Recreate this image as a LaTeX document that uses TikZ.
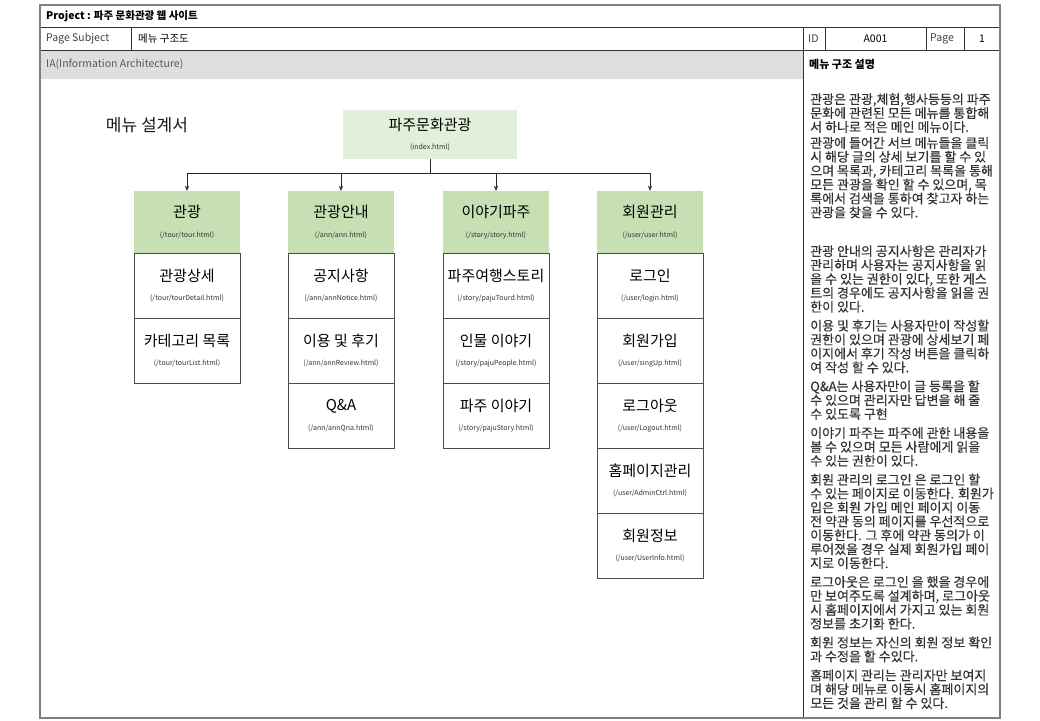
\documentclass[tikz,border=0pt]{standalone}
\usepackage{fontspec}
\usetikzlibrary{arrows.meta,positioning}
\newfontfamily\kr{Noto Sans CJK KR}
\newfontfamily\krdesc[FakeBold=0.4]{Noto Sans CJK KR}
\definecolor{rootgreen}{HTML}{E2EFDA}
\definecolor{menugreen}{HTML}{C6E0B4}
\definecolor{headgray}{HTML}{DEDEDE}
\definecolor{framegray}{HTML}{808080}
\tikzset{
  rootbox/.style={fill=rootgreen,minimum width=174pt,minimum height=49pt,align=center,inner sep=0pt,font=\kr\fontsize{15}{19.5}\selectfont},
  menubox/.style={fill=menugreen,minimum width=106pt,minimum height=62pt,align=center,inner sep=0pt,font=\kr\fontsize{15}{20}\selectfont},
  subbox/.style={draw=black!70,fill=white,minimum width=106pt,minimum height=65pt,align=center,inner sep=0pt,font=\kr\fontsize{15}{19.5}\selectfont},
  cell/.style={font=\kr\fontsize{10.5}{12}\selectfont,anchor=west,inner sep=0pt},
  desc/.style={font=\krdesc\fontsize{13}{13.9}\selectfont,align=left,anchor=north west,inner sep=0pt,text=black!80},
  link/.style={-{Stealth[length=5pt,width=4pt]},black!85}
}
\newcommand{\boxtext}[2]{#1\\{\fontsize{7}{8}\selectfont\color{black!80}#2}}

\begin{document}
\begin{tikzpicture}[x=1pt,y=-1pt]
	\useasboundingbox (0,0) rectangle (1040,720);
	% form frame
	\fill[headgray] (40,50) rectangle (803,79);
	\draw[black!80] (40,27)--(1000,27) (40,50)--(1000,50);
	\foreach \x in {131,803,825,926,964}
		\draw[black!80] (\x,27)--(\x,50);
	\draw[black!80] (803,50)--(803,718);
	\draw[framegray,line width=1.5pt] (40,5) rectangle (1000,718);
	\node[cell,font=\kr\bfseries\fontsize{10.5}{12}\selectfont] (project) at (46,16) {Project : 파주 문화관광 웹 사이트};
	\node[cell,text=black!75] (subjlabel) at (46,38.5) {Page Subject};
	\node[cell] (subject) at (138,38.5) {메뉴 구조도};
	\node[cell,text=black!75] (idlabel) at (808,38.5) {ID};
	\node[cell,anchor=center] (idval) at (875.5,38.5) {A001};
	\node[cell,text=black!75] (pagelabel) at (930,38.5) {Page};
	\node[cell,anchor=center] (pageval) at (982,38.5) {1};
	\node[cell,text=black!65] (ia) at (46,64) {IA(Information Architecture)};
	\node[cell,font=\kr\bfseries\fontsize{11}{12}\selectfont] (desctitle) at (809,64) {메뉴 구조 설명};
	% menu tree
	\node[font=\kr\fontsize{17}{18}\selectfont,text=black!90] (doctitle) at (147,125) {메뉴 설계서};
	\node[rootbox] (root) at (430,134.5) {\boxtext{파주문화관광}{(index.html)}};
	\coordinate (bus) at (430,173);
	\foreach \m/\x/\title/\url in {tour/187/관광/{(/tour/tour.html)},ann/341/관광안내/{(/ann/ann.html)},story/496/이야기파주/{(/story/story.html)},user/650/회원관리/{(/user/user.html)}}{
		\node[menubox] (\m) at (\x,222) {\boxtext{\title}{\url}};
		\draw[link] (root.south)--(bus)-|(\m.north);
	}
	\foreach[count=\i] \title/\url in {관광상세/{(/tour/tourDetail.html)},카테고리 목록/{(/tour/tourList.html)}}
		\node[subbox] (tour\i) at (187,{285.5+65*(\i-1)}) {\boxtext{\title}{\url}};
	\foreach[count=\i] \title/\url in {공지사항/{(/ann/annNotice.html)},이용 및 후기/{(/ann/annReview.html)},Q\&A/{(/ann/annQna.html)}}
		\node[subbox] (ann\i) at (341,{285.5+65*(\i-1)}) {\boxtext{\title}{\url}};
	\foreach[count=\i] \title/\url in {파주여행스토리/{(/story/pajuTourd.html)},인물 이야기/{(/story/pajuPeople.html)},파주 이야기/{(/story/pajuStory.html)}}
		\node[subbox] (story\i) at (496,{285.5+65*(\i-1)}) {\boxtext{\title}{\url}};
	\foreach[count=\i] \title/\url in {로그인/{(/user/login.html)},회원가입/{(/user/singUp.html)},로그아웃/{(/user/Logout.html)},홈페이지관리/{(/user/AdminCtrl.html)},회원정보/{(/user/UserInfo.html)}}
		\node[subbox] (user\i) at (650,{285.5+65*(\i-1)}) {\boxtext{\title}{\url}};
	% description
	\node[desc] (para1) at (810,93) {관광은 관광,체험,행사등등의 파주\\
		문화에 관련된 모든 메뉴를 통합해\\
		서 하나로 적은 메인 메뉴이다.\\[2pt]
		관광에 들어간 서브 메뉴들을 클릭\\
		시 해당 글의 상세 보기를 할 수 있\\
		으며 목록과, 카테고리 목록을 통해\\
		모든 관광을 확인 할 수 있으며, 목\\
		록에서 검색을 통하여 찾고자 하는\\
		관광을 찾을 수 있다.};
	\node[desc] (para2) at (810,245) {관광 안내의 공지사항은 관리자가\\
		관리하며 사용자는 공지사항을 읽\\
		을 수 있는 권한이 있다, 또한 게스\\
		트의 경우에도 공지사항을 읽을 권\\
		한이 있다.\\[5pt]
		이용 및 후기는 사용자만이 작성할\\
		권한이 있으며 관광에 상세보기 페\\
		이지에서 후기 작성 버튼을 클릭하\\
		여 작성 할 수 있다.\\[5pt]
		Q\&A는 사용자만이 글 등록을 할\\
		수 있으며 관리자만 답변을 해 줄\\
		수 있도록 구현\\[5pt]
		이야기 파주는 파주에 관한 내용을\\
		볼 수 있으며 모든 사람에게 읽을\\
		수 있는 권한이 있다.\\[5pt]
		회원 관리의 로그인 은 로그인 할\\
		수 있는 페이지로 이동한다. 회원가\\
		입은 회원 가입 메인 페이지 이동\\
		전 약관 동의 페이지를 우선적으로\\
		이동한다. 그 후에 약관 동의가 이\\
		루어졌을 경우 실제 회원가입 페이\\
		지로 이동한다.\\[5pt]
		로그아웃은 로그인 을 했을 경우에\\
		만 보여주도록 설계하며, 로그아웃\\
		시 홈페이지에서 가지고 있는 회원\\
		정보를 초기화 한다.\\[5pt]
		회원 정보는 자신의 회원 정보 확인\\
		과 수정을 할 수있다.\\[5pt]
		홈페이지 관리는 관리자만 보여지\\
		며 해당 메뉴로 이동시 홈페이지의\\
		모든 것을 관리 할 수 있다.};
\end{tikzpicture}
\end{document}
